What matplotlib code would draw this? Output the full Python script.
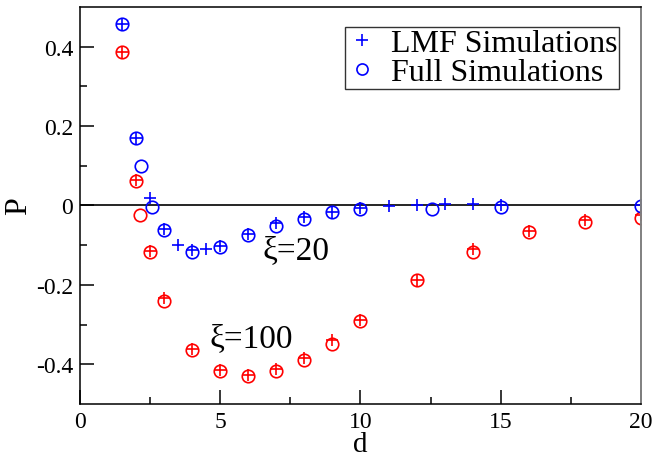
import numpy as np
import matplotlib.pyplot as plt

plt.rcParams['font.family'] = ['Liberation Serif', 'DejaVu Serif']

# xi = 20 (blue)
lmf20_d = [1.5, 2, 2.5, 3, 3.5, 4, 4.5, 5, 6, 7, 8, 9, 10, 11, 12, 13, 14, 15, 20]
lmf20_p = [0.456, 0.170, 0.019, -0.060, -0.100, -0.113, -0.111, -0.103, -0.073,
           -0.045, -0.029, -0.016, -0.007, -0.001, 0.000, 0.003, 0.003, 0.001, 0.001]
full20_d = [1.5, 2, 2.17, 2.58, 3, 4, 5, 6, 7, 8, 9, 10, 12.55, 15, 20]
full20_p = [0.456, 0.169, 0.098, -0.005, -0.062, -0.118, -0.104, -0.075, -0.051,
            -0.034, -0.017, -0.008, -0.008, -0.003, -0.002]

# xi = 100 (red)
lmf100_d = [1.5, 2, 2.5, 3, 4, 5, 6, 7, 8, 9, 10, 12, 14, 16, 18, 20]
lmf100_p = [0.385, 0.063, -0.116, -0.232, -0.362, -0.415, -0.428, -0.413, -0.384,
            -0.340, -0.288, -0.187, -0.110, -0.064, -0.038, -0.025]
full100_d = [1.5, 2, 2.15, 2.5, 3, 4, 5, 6, 7, 8, 9, 10, 12, 14, 16, 18, 20]
full100_p = [0.385, 0.062, -0.024, -0.117, -0.241, -0.364, -0.417, -0.430, -0.417,
             -0.389, -0.349, -0.290, -0.188, -0.117, -0.066, -0.043, -0.031]

fig = plt.figure(figsize=(6.56, 4.6), dpi=100)
ax = fig.add_axes([0.122, 0.1196, 0.855, 0.8634])

ax.axhline(0, color='black', lw=1.2, zorder=1)

mk = dict(linestyle='none', markersize=9, markeredgewidth=1.2)
ax.plot(lmf100_d, lmf100_p, marker='+', color='red', **mk)
ax.plot(full100_d, full100_p, marker='o', markerfacecolor='none', markeredgecolor='red', **mk)
ax.plot(lmf20_d, lmf20_p, marker='+', color='blue', label='LMF Simulations', **mk)
ax.plot(full20_d, full20_p, marker='o', markerfacecolor='none', markeredgecolor='blue',
        label='Full Simulations', **mk)

ax.text(6.5, -0.132, 'ξ=20', fontsize=24)
ax.text(4.6, -0.354, 'ξ=100', fontsize=24)

ax.set_xlim(0, 20)
ax.set_ylim(-0.5, 0.5)
ax.set_xticks([0, 5, 10, 15, 20])
ax.set_xticklabels(['0', '5', '10', '15', '20'])
ax.set_xticks(np.arange(2.5, 20, 5), minor=True)
ax.set_yticks([-0.4, -0.2, 0, 0.2, 0.4])
ax.set_yticklabels(['-0.4', '-0.2', '0', '0.2', '0.4'])
ax.set_yticks([-0.3, -0.1, 0.1, 0.3], minor=True)
ax.tick_params(which='both', direction='in', top=False, right=False, labelsize=17, width=1.1)
ax.tick_params(axis='x', which='major', length=10, pad=5)
ax.tick_params(axis='y', which='major', length=10, pad=5)
ax.tick_params(which='minor', length=5)

for s in ['left', 'bottom', 'top']:
    ax.spines[s].set_linewidth(1.1)
ax.spines['right'].set_color('gray')
ax.spines['right'].set_linewidth(1.4)

ax.set_xlabel('d', fontsize=21, labelpad=-1)
ax.set_ylabel('P', fontsize=23, labelpad=2)

leg = ax.legend(loc='upper right', bbox_to_anchor=(0.961, 0.949), fontsize=23,
                frameon=True, fancybox=False, handlelength=1.0, handletextpad=0.4,
                borderpad=0.05, labelspacing=0.0, borderaxespad=0)
leg.get_frame().set_edgecolor('black')
leg.get_frame().set_linewidth(1.0)
for h in leg.legend_handles:
    h.set_markersize(8)

fig.savefig('out.png', dpi=100)
